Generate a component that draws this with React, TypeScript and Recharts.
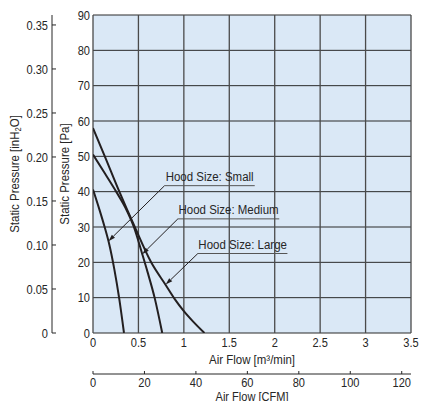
import { CartesianGrid, Line, LineChart, ReferenceLine, XAxis, YAxis } from "recharts"

const PA_PER_INH2O = 249.089
const CFM_PER_M3MIN = 35.3147

const flowTicks = [0, 0.5, 1, 1.5, 2, 2.5, 3, 3.5]
const paTicks = [0, 10, 20, 30, 40, 50, 60, 70, 80, 90]
const inTicks = [0, 0.05, 0.1, 0.15, 0.2, 0.25, 0.3, 0.35]
const cfmTicks = [0, 20, 40, 60, 80, 100, 120]

// air flow q [m3/min], static pressure p [Pa]
const smallHood = [
  { q: 0, p: 40.6 },
  { q: 0.07, p: 35 },
  { q: 0.128, p: 30 },
  { q: 0.18, p: 25 },
  { q: 0.235, p: 18 },
  { q: 0.29, p: 9.5 },
  { q: 0.341, p: 0 },
]

const mediumHood = [
  { q: 0, p: 50.5 },
  { q: 0.13, p: 45.2 },
  { q: 0.26, p: 39.8 },
  { q: 0.36, p: 35.3 },
  { q: 0.45, p: 30 },
  { q: 0.54, p: 22.5 },
  { q: 0.6, p: 17.3 },
  { q: 0.68, p: 9.8 },
  { q: 0.762, p: 0 },
]

const largeHood = [
  { q: 0, p: 58 },
  { q: 0.13, p: 50 },
  { q: 0.29, p: 40 },
  { q: 0.46, p: 30 },
  { q: 0.64, p: 20 },
  { q: 0.8, p: 13.6 },
  { q: 0.9, p: 9.6 },
  { q: 1.0, p: 6.2 },
  { q: 1.1, p: 3.3 },
  { q: 1.227, p: 0 },
]

const hoodLabels = ["Hood Size: Small", "Hood Size: Medium", "Hood Size: Large"]
const hoodSeries = [smallHood, mediumHood, largeHood]
const arrowTips = [
  { q: 0.17, p: 26 },
  { q: 0.542, p: 22.3 },
  { q: 0.8, p: 13.7 },
]
const labelStarts = [
  { q: 0.788, p: 41.7 },
  { q: 0.934, p: 32.3 },
  { q: 1.154, p: 22.5 },
]
const labelEnds = [1.78, 2.05, 2.14]

const FONT = "'Liberation Sans', Arial, sans-serif"
const INK = "#231f20"
const TEXT = "#262626"
const SQUEEZE = 0.85 // condensed look

// axis ids: the one sorting first sits next to the plot
const X_M3 = "a_m3"
const X_CFM = "b_cfm"
const Y_PA = "a_pa"
const Y_IN = "b_in"

// narrow text: glyphs squeezed horizontally around the anchor point
const NText = ({ x, y, anchor = "middle", dy, size = 13, rotate = false, children }: any) => (
  <text
    transform={`translate(${x},${y})${rotate ? " rotate(-90)" : ""} scale(${SQUEEZE},1)`}
    textAnchor={anchor}
    dy={dy}
    fill={TEXT}
    fontSize={size}
    fontFamily={FONT}
  >
    {children}
  </text>
)

const Arrow = (props: any) => {
  const { x1, y1, x2, y2 } = props
  const ang = Math.atan2(y2 - y1, x2 - x1)
  const len = 7
  const half = 2.2
  const bx = x1 + Math.cos(ang) * len
  const by = y1 + Math.sin(ang) * len
  const nx = -Math.sin(ang) * half
  const ny = Math.cos(ang) * half
  return (
    <g>
      <line x1={bx} y1={by} x2={x2} y2={y2} stroke={INK} strokeWidth={1} />
      <polygon points={`${x1},${y1} ${bx + nx},${by + ny} ${bx - nx},${by - ny}`} fill={INK} />
    </g>
  )
}

const InchTick = (props: any) => {
  const { x, y, payload } = props
  const v = payload.value
  return (
    <g>
      <line x1={x} y1={y} x2={x + 4} y2={y} stroke={TEXT} />
      <NText x={x - 4} y={y} anchor="end" dy="0.36em">
        {v === 0 ? "0" : v.toFixed(2)}
      </NText>
    </g>
  )
}

const PaTick = (props: any) => {
  const { x, y, payload } = props
  return (
    <NText x={x} y={y} anchor="end" dy="0.36em">
      {payload.value}
    </NText>
  )
}

const FlowTick = (props: any) => {
  const { x, y, payload } = props
  return (
    <NText x={x} y={y} dy="0.71em">
      {payload.value}
    </NText>
  )
}

const CfmTick = (props: any) => {
  const { x, y, payload } = props
  return (
    <g>
      <line x1={x} y1={y - 3} x2={x} y2={y} stroke={TEXT} />
      <NText x={x} y={y + 4} dy="0.71em">
        {payload.value}
      </NText>
    </g>
  )
}

const yTitle = (inset: number, sub: boolean) => (props: any) => {
  const vb = props.viewBox
  const cx = vb.x + inset
  const cy = vb.y + vb.height / 2
  return (
    <NText x={cx} y={cy} rotate dy="0.36em" size={13.5}>
      {sub ? (
        <>
          Static Pressure [inH<tspan fontSize={9} dy={2}>2</tspan>
          <tspan dy={-2}>O]</tspan>
        </>
      ) : (
        "Static Pressure [Pa]"
      )}
    </NText>
  )
}

const xTitle = (text: string, gap: number, size: number) => (props: any) => {
  const vb = props.viewBox
  return (
    <NText x={vb.x + vb.width / 2} y={vb.y + gap} dy="0.71em" size={size}>
      {text}
    </NText>
  )
}

const hoodTitle = (text: string) => (props: any) => {
  const vb = props.viewBox
  return (
    <NText x={vb.x + vb.width / 2} y={vb.y - 5} size={13.5}>
      {text}
    </NText>
  )
}

export default function App() {
  return (
    <div style={{ position: "absolute", left: 0, top: 0, width: 421, height: 401, background: "#fff" }}>
      <LineChart width={421} height={401} margin={{ top: 15, right: 10, left: 0, bottom: 0 }}>
        <XAxis
          xAxisId={X_M3}
          type="number"
          dataKey="q"
          domain={[0, 3.5]}
          ticks={flowTicks}
          interval={0}
          allowDataOverflow
          height={41}
          tickSize={0}
          tickMargin={5}
          tickLine={false}
          axisLine={false}
          tick={<FlowTick />}
          label={{ content: xTitle("Air Flow [m³/min]", 21, 13.5) }}
        />
        <XAxis
          xAxisId={X_CFM}
          type="number"
          dataKey="q"
          domain={[0, 3.5 * CFM_PER_M3MIN]}
          ticks={cfmTicks}
          interval={0}
          allowDataOverflow
          height={27}
          tickSize={0}
          tickMargin={0}
          tickLine={false}
          axisLine={{ stroke: TEXT }}
          tick={<CfmTick />}
          label={{ content: xTitle("Air Flow [CFM]", 18, 13) }}
        />
        <YAxis
          yAxisId={Y_PA}
          type="number"
          domain={[0, 90]}
          ticks={paTicks}
          interval={0}
          allowDataOverflow
          width={41}
          tickSize={0}
          tickMargin={3}
          tickLine={false}
          axisLine={false}
          tick={<PaTick />}
          label={{ content: yTitle(12, false) }}
        />
        <YAxis
          yAxisId={Y_IN}
          type="number"
          domain={[0, 90 / PA_PER_INH2O]}
          ticks={inTicks}
          interval={0}
          allowDataOverflow
          width={52}
          tickSize={0}
          tickMargin={0}
          tickLine={false}
          axisLine={{ stroke: TEXT }}
          tick={<InchTick />}
          label={{ content: yTitle(14, true) }}
        />
        <CartesianGrid
          xAxisId={X_M3}
          yAxisId={Y_PA}
          vertical={false}
          stroke="#2a2a2a"
          fill="#dae8f6"
          fillOpacity={1}
        />
        <CartesianGrid xAxisId={X_M3} yAxisId={Y_PA} horizontal={false} stroke="#4a4a4a" strokeWidth={1.3} />
        {hoodSeries.map((s, i) => (
          <Line
            key={hoodLabels[i]}
            xAxisId={X_M3}
            yAxisId={Y_PA}
            data={s}
            dataKey="p"
            type="monotone"
            stroke={INK}
            strokeWidth={2}
            dot={false}
            isAnimationActive={false}
          />
        ))}
        {hoodLabels.map((name, i) => (
          <ReferenceLine
            key={"lead" + name}
            xAxisId={X_M3}
            yAxisId={Y_PA}
            segment={[
              { x: arrowTips[i].q, y: arrowTips[i].p },
              { x: labelStarts[i].q, y: labelStarts[i].p },
            ]}
            shape={Arrow}
          />
        ))}
        {hoodLabels.map((name, i) => (
          <ReferenceLine
            key={"under" + name}
            xAxisId={X_M3}
            yAxisId={Y_PA}
            segment={[
              { x: labelStarts[i].q, y: labelStarts[i].p },
              { x: labelEnds[i], y: labelStarts[i].p },
            ]}
            stroke="#555"
            strokeWidth={1}
            label={{ content: hoodTitle(name) }}
          />
        ))}
      </LineChart>
    </div>
  )
}
